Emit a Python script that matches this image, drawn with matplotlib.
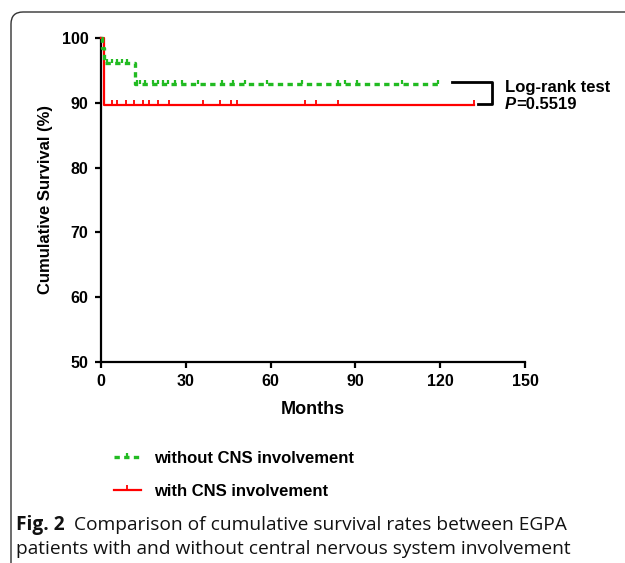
import matplotlib
matplotlib.use("Agg")
import matplotlib.pyplot as plt
from matplotlib.lines import Line2D
from matplotlib.patches import FancyBboxPatch
from matplotlib.transforms import IdentityTransform

# ---- data ----
# Kaplan-Meier steps (time in months, survival %)
green_times = [0, 0.3, 1.2, 12, 120]
green_surv = [100, 98.4, 96.2, 92.9, 92.9]
green_censor = [2, 3.8, 5.5, 7.3, 9.1, 12.8, 13.8, 15.6, 18.5, 20.3, 22, 23.8,
                26.2, 28.5, 34.4, 42.7, 46.8, 51, 58.6, 71, 84, 86.3, 90.4,
                106.4, 119.3]
red_times = [0, 1, 132]
red_surv = [100, 89.6, 89.6]
red_censor = [3.8, 5.8, 8.8, 11.8, 15, 17, 20, 24, 36, 42, 46, 48, 72.2, 76, 84, 132]

x_ticks = [0, 30, 60, 90, 120, 150]
y_ticks = [50, 60, 70, 80, 90, 100]
labels = ["without CNS involvement", "with CNS involvement"]
green = "#22bb22"
red = "#ff0000"

plt.rcParams['font.family'] = ['Liberation Sans', 'DejaVu Sans']

W, H = 625, 563
fig = plt.figure(figsize=(W / 100, H / 100), dpi=100)
ax = fig.add_axes([101 / W, 1 - 362 / H, (525 - 101) / W, (362 - 38) / H])


def surv_at(times, surv, t):
    v = surv[0]
    for ti, si in zip(times, surv):
        if ti <= t:
            v = si
    return v


# red curve
ax.step(red_times, red_surv, where='post', color=red, lw=1.6, clip_on=False, zorder=3)
ax.plot(red_censor, [surv_at(red_times, red_surv, t) for t in red_censor],
        ls='none', marker=2, ms=3.5, mew=1.3, color=red, clip_on=False, zorder=3)

# green curve
ax.step(green_times, green_surv, where='post', color=green, lw=2.4,
        dashes=(1.6, 1.3), clip_on=False, zorder=4)
ax.plot(green_censor, [surv_at(green_times, green_surv, t) for t in green_censor],
        ls='none', marker=2, ms=3, mew=1.6, color=green, clip_on=False, zorder=4)

ax.set_xlim(0, 150)
ax.set_ylim(50, 100)
ax.set_xticks(x_ticks)
ax.set_yticks(y_ticks)
for s in ['top', 'right']:
    ax.spines[s].set_visible(False)
for s in ['left', 'bottom']:
    ax.spines[s].set_linewidth(1.6)
ax.tick_params(direction='out', length=4, width=1.6, labelsize=11.5, pad=5)
for lab in ax.get_xticklabels() + ax.get_yticklabels():
    lab.set_fontweight('bold')
ax.set_xlabel("Months", fontsize=13, fontweight='bold', labelpad=8)
ax.set_ylabel("Cumulative Survival (%)", fontsize=12, fontweight='bold', labelpad=6)

# log-rank bracket
ax.plot([124.2, 138.3, 138.3, 133.4], [93.2, 93.2, 89.8, 89.8], color='black',
        lw=2, clip_on=False)
ax.text(142.9, 92.4, "Log-rank test", fontsize=12, fontweight='bold',
        va='center', ha='left')
tp = ax.text(142.9, 89.7, "P", fontsize=12, fontweight='bold', style='italic',
             va='center', ha='left')
ax.annotate("=0.5519", xy=(1, 0.5), xycoords=tp, xytext=(0, 0),
            textcoords='offset points', fontsize=12, fontweight='bold',
            va='center', ha='left', annotation_clip=False)

# legend
handles = [Line2D([], [], color=green, lw=2.4, dashes=(1.6, 1.3), marker=2,
                  ms=3, mew=1.6),
           Line2D([], [], color=red, lw=1.6, marker=2, ms=3.5, mew=1.3)]
fig.legend(handles, labels, loc='upper left',
           bbox_to_anchor=(114 / W, 1 - 451 / H), frameon=False,
           prop={'weight': 'bold', 'size': 12}, handlelength=1.6,
           handletextpad=0.8, labelspacing=1.05, borderpad=0, borderaxespad=0,
           numpoints=1)

# caption
cap_font = ['Open Sans', 'DejaVu Sans']
t1 = fig.text(16 / W, 1 - 525 / H, "Fig. 2", fontsize=13.8, fontweight='bold',
              family=cap_font, va='center', ha='left', color='#111111')
fig.text(16 / W, 1 - 549 / H,
         "patients with and without central nervous system involvement",
         fontsize=13.8, family=cap_font, va='center', ha='left', color='#111111')
ax.annotate("Comparison of cumulative survival rates between EGPA",
            xy=(1, 0.5), xycoords=t1, xytext=(7, 0), textcoords='offset points',
            fontsize=13.8, family=cap_font, va='center', ha='left',
            color='#111111', annotation_clip=False)

# frame
frame = FancyBboxPatch((11, -60), 700, (H - 12) + 60,
                       boxstyle="round,pad=0,rounding_size=12",
                       transform=IdentityTransform(), fill=False,
                       edgecolor='#333333', lw=1.0, clip_on=False)
fig.add_artist(frame)

fig.savefig("out.png", dpi=100)
